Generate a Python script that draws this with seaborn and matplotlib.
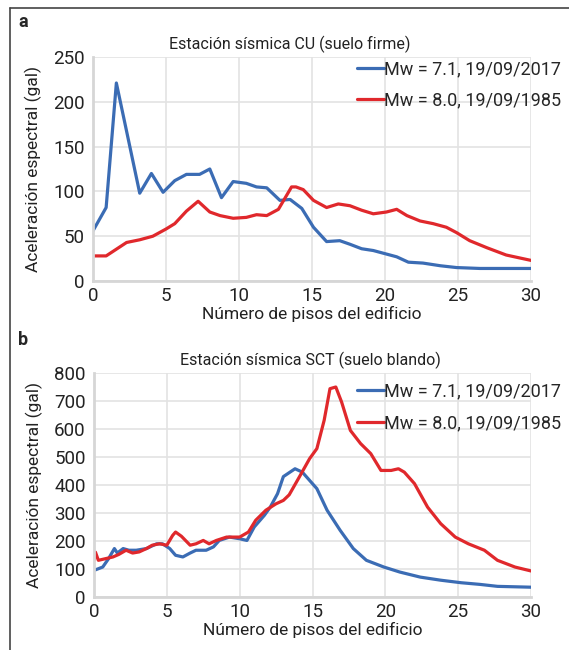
import pandas as pd
import matplotlib
matplotlib.use('Agg')
import matplotlib.pyplot as plt
import seaborn as sns
from matplotlib.lines import Line2D

# Estación CU (suelo firme)
cu_2017_x = [0, 0.9, 1.6, 3.2, 4.0, 4.8, 5.6, 6.4, 7.3, 8.0, 8.8, 9.6, 10.5, 11.2, 11.9, 12.8,
             13.5, 14.3, 15.1, 16.0, 16.9, 17.6, 18.4, 19.2, 20.8, 21.6, 22.6, 23.8, 24.9, 26.5, 30]
cu_2017_y = [56, 82, 221, 98, 120, 99, 112, 119, 119, 125, 93, 111, 109, 105, 104, 90,
             91, 81, 60, 44, 45, 41, 36, 34, 27, 21, 20, 17, 15, 14, 14]
cu_1985_x = [0, 0.9, 2.3, 3.2, 4.1, 5.0, 5.6, 6.4, 7.2, 8.0, 8.7, 9.6, 10.5, 11.2, 11.9, 12.7,
             13.6, 13.9, 14.4, 15.1, 16.0, 16.8, 17.6, 18.4, 19.2, 20.1, 20.8, 21.5, 22.4, 23.3,
             24.2, 24.9, 25.8, 27.0, 28.3, 30]
cu_1985_y = [28, 28, 43, 46, 50, 58, 64, 78, 89, 77, 73, 70, 71, 74, 73, 80,
             105, 105, 102, 90, 82, 86, 84, 79, 75, 77, 80, 73, 67, 64,
             60, 54, 45, 37, 29, 23]

# Estación SCT (suelo blando)
sct_2017_x = [0, 0.6, 1.0, 1.4, 1.6, 2.0, 2.4, 2.9, 3.6, 4.3, 4.7, 5.2, 5.6, 6.1, 6.6, 7.0, 7.7,
              8.2, 8.6, 9.3, 10.0, 10.5, 11.0, 11.7, 12.1, 12.6, 13.0, 13.8, 14.3, 15.3, 16.0,
              16.9, 17.8, 18.7, 19.9, 21.0, 22.4, 23.8, 25.2, 26.5, 27.7, 30]
sct_2017_y = [95, 107, 137, 173, 157, 173, 167, 167, 173, 190, 190, 173, 149, 143, 157, 167, 167,
              179, 202, 214, 208, 202, 250, 292, 321, 369, 430, 458, 446, 387, 310,
              238, 173, 131, 107, 89, 71, 60, 51, 45, 38, 35]
sct_1985_x = [0, 0.1, 0.3, 0.8, 1.3, 1.7, 2.2, 2.65, 3.1, 3.6, 4.0, 4.5, 5.0, 5.4, 5.6, 6.0,
              6.6, 7.0, 7.5, 7.9, 8.4, 9.1, 10.0, 10.6, 11.1, 11.8, 12.5, 13.0, 13.4, 14.1,
              14.8, 15.3, 15.8, 16.2, 16.6, 17.0, 17.6, 18.3, 19.0, 19.7, 20.4, 20.9, 21.3,
              22.0, 22.9, 23.8, 24.8, 25.7, 26.8, 27.7, 28.9, 30]
sct_1985_y = [131, 160, 131, 137, 143, 152, 167, 157, 161, 173, 185, 190, 185, 220, 232, 217,
              185, 190, 202, 190, 202, 214, 214, 232, 274, 310, 333, 345, 365, 429,
              494, 530, 631, 744, 750, 696, 595, 548, 512, 452, 452, 458, 446,
              405, 321, 262, 214, 190, 167, 131, 107, 93]

label_2017 = 'Mw = 7.1, 19/09/2017'
label_1985 = 'Mw = 8.0, 19/09/1985'
colores = {label_2017: '#3b6cb4', label_1985: '#e0282c'}


def to_df(x17, y17, x85, y85):
    a = pd.DataFrame({'pisos': x17, 'acel': y17, 'sismo': label_2017})
    b = pd.DataFrame({'pisos': x85, 'acel': y85, 'sismo': label_1985})
    return pd.concat([a, b], ignore_index=True)


df_cu = to_df(cu_2017_x, cu_2017_y, cu_1985_x, cu_1985_y)
df_sct = to_df(sct_2017_x, sct_2017_y, sct_1985_x, sct_1985_y)

sns.set_style('whitegrid')
plt.rcParams['font.family'] = ['Roboto', 'DejaVu Sans']

fig = plt.figure(figsize=(5.69, 6.5), dpi=100)
W, H = 569, 650
ax1 = fig.add_axes([93 / W, 1 - 281 / H, 438 / W, 224 / H])
ax2 = fig.add_axes([94 / W, 1 - 597 / H, 437 / W, 224 / H])

panels = [
    (ax1, df_cu, 'Estación sísmica CU (suelo firme)', 0.45, 250, 50, 'a', 22, 1.018),
    (ax2, df_sct, 'Estación sísmica SCT (suelo blando)', 0.495, 800, 100, 'b', 340, 0.99),
]

for ax, df, titulo, tx, ymax, ystep, letra, ly, leg_y in panels:
    sns.lineplot(data=df, x='pisos', y='acel', hue='sismo', palette=colores,
                 estimator=None, sort=False, linewidth=2.3, ax=ax)
    ax.set_xlim(0, 30)
    ax.set_ylim(0, ymax)
    ax.set_xticks(range(0, 31, 5))
    ax.set_yticks(range(0, ymax + 1, ystep))
    ax.grid(True, color='#e3e3e3', linewidth=1.2)
    for s in ['top', 'right']:
        ax.spines[s].set_visible(False)
    for s in ['left', 'bottom']:
        ax.spines[s].set_color('#d6d6d6')
        ax.spines[s].set_linewidth(2)
    ax.tick_params(axis='both', labelsize=13.5, colors='#222222', length=0)
    ax.tick_params(axis='y', pad=6)
    ax.tick_params(axis='x', pad=4)
    ax.set_xlabel('Número de pisos del edificio', fontsize=12.5, color='#222222', labelpad=1)
    ax.set_ylabel('Aceleración espectral (gal)', fontsize=12.5, color='#222222', labelpad=8)
    ax.set_title(titulo, fontsize=11.5, color='#222222', pad=6, x=tx)
    ax.legend(loc='upper right', frameon=False, fontsize=13, handlelength=1.5,
              handletextpad=0.0, borderaxespad=0.0, labelspacing=0.75,
              bbox_to_anchor=(1.085, leg_y))
    fig.text(18 / W, 1 - ly / H, letra, fontsize=13, fontweight='bold', va='center')

# marco de la figura
fig.add_artist(Line2D([10 / W, 1], [1 - 8 / H, 1 - 8 / H], color='#444444', linewidth=1.2))
fig.add_artist(Line2D([10 / W, 10 / W], [0, 1 - 8 / H], color='#444444', linewidth=1.2))

fig.savefig('out.png', dpi=100)
